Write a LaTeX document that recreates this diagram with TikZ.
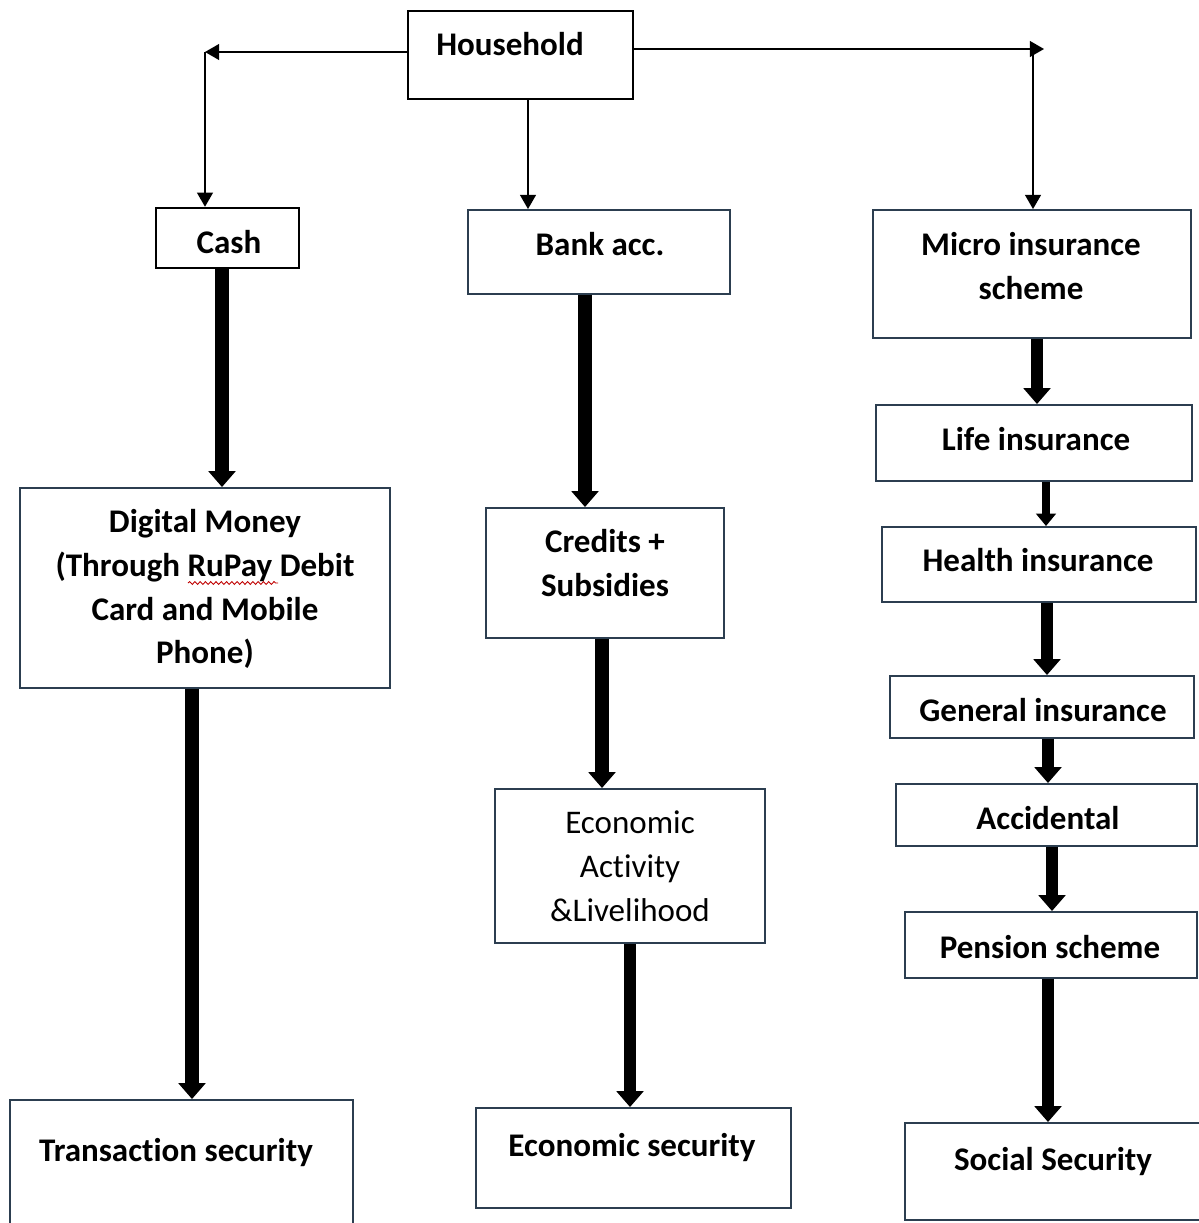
\documentclass[tikz,border=0pt]{standalone}
\usepackage{fontspec}
\setmainfont[Ligatures=NoCommon]{Carlito}
\usetikzlibrary{arrows.meta,decorations.pathmorphing}
\definecolor{boxline}{RGB}{44,62,80}

\begin{document}
\begin{tikzpicture}[x=0.02cm,y=-0.02cm,
  box/.style={draw=boxline,line width=1.1pt,inner sep=0pt},
  blackbox/.style={box,draw=black,line width=1.4pt},
  lbl/.style={font=\fontsize{18.8}{25}\selectfont\bfseries,align=center,inner sep=0pt},
  lblreg/.style={lbl,font=\fontsize{18.8}{25}\selectfont},
  thinarrow/.style={line width=0.8pt,-{Triangle[width=9pt,length=8pt]}},
  fatarrow/.style={line width=#1,-{Triangle[width=15pt,length=9pt]}},
  fatarrow/.default=6.5pt]
  \useasboundingbox (0,0) rectangle (1198,1223);

  % top
  \node[blackbox,minimum width=4.5cm,minimum height=1.76cm] (hh) at (520.5,55) {};
  \node[lbl] (hhtxt) at (510,44) {Household};

  % left column
  \node[blackbox,minimum width=2.86cm,minimum height=1.2cm] (cash) at (227.5,238) {};
  \node[lbl] (cashtxt) at (229,242) {Cash};
  \node[box,minimum width=7.4cm,minimum height=4cm] (dig) at (205,588) {};
  \node[lbl] (digtxt) at (205,589) {Digital Money\\(Through RuPay Debit\\Card and Mobile\\Phone)};
  \node[box,minimum width=6.86cm,minimum height=2.8cm] (trans) at (181.5,1170) {};
  \node[lbl] (transtxt) at (176,1152) {Transaction security};

  % middle column
  \node[box,minimum width=5.24cm,minimum height=1.68cm] (bank) at (599,252) {};
  \node[lbl] (banktxt) at (600,244) {Bank acc.};
  \node[box,minimum width=4.76cm,minimum height=2.6cm] (cred) at (605,573) {};
  \node[lbl] (credtxt) at (605,563) {Credits +\\Subsidies};
  \node[box,minimum width=5.4cm,minimum height=3.08cm] (eca) at (630,866) {};
  \node[lblreg] (ecatxt) at (630,866) {Economic\\Activity\\\&Livelihood};
  \node[box,minimum width=6.3cm,minimum height=2cm] (econ) at (633.5,1158) {};
  \node[lbl] (econtxt) at (632,1147) {Economic security};

  % right column
  \node[box,minimum width=6.36cm,minimum height=2.56cm] (micro) at (1032,274) {};
  \node[lbl] (microtxt) at (1031,266) {Micro insurance\\scheme};
  \node[box,minimum width=6.32cm,minimum height=1.52cm] (life) at (1034,443) {};
  \node[lbl] (lifetxt) at (1036,439) {Life insurance};
  \node[box,minimum width=6.28cm,minimum height=1.5cm] (health) at (1039,564.5) {};
  \node[lbl] (healthtxt) at (1038,560) {Health insurance};
  \node[box,minimum width=6.08cm,minimum height=1.24cm] (gen) at (1042,707) {};
  \node[lbl] (gentxt) at (1043,710) {General insurance};
  \node[box,minimum width=6.02cm,minimum height=1.24cm] (acc) at (1046.5,815) {};
  \node[lbl] (acctxt) at (1048,818) {Accidental};
  \node[box,minimum width=5.84cm,minimum height=1.32cm] (pen) at (1051,945) {};
  \node[lbl] (pentxt) at (1050,947) {Pension scheme};
  \node[box,minimum width=6cm,minimum height=1.94cm] (soc) at (1055,1171.5) {};
  \node[lbl] (soctxt) at (1053,1161) {Social Security};

  % spell-check mark under RuPay
  \draw[red!75!black,line width=0.5pt,decorate,
    decoration={snake,amplitude=0.8pt,segment length=3pt}] (188,583) -- (278,583);

  % thin connectors from household
  \coordinate (lc) at (205,52);
  \coordinate (rtip) at (1044,49);
  \coordinate (rc) at (1033,49);
  \draw[thinarrow] (hh.west |- lc) -- (lc);
  \draw[thinarrow] (lc) -- (lc |- cash.north);
  \draw[thinarrow] (hh.east |- rtip) -- (rtip);
  \draw[thinarrow] (rc) -- (rc |- micro.north);
  \draw[thinarrow] ([xshift=0.15cm]hh.south) -- ([xshift=0.15cm]hh.south |- bank.north);

  % heavy arrows
  \draw[fatarrow=8pt] ([xshift=-0.11cm]cash.south) -- ([xshift=-0.11cm]cash.south |- dig.north);
  \draw[fatarrow=8pt] ([xshift=-0.26cm]dig.south) -- ([xshift=-0.26cm]dig.south |- trans.north);
  \draw[fatarrow=7.5pt] ([xshift=-0.28cm]bank.south) -- ([xshift=-0.28cm]bank.south |- cred.north);
  \draw[fatarrow=7.5pt] ([xshift=-0.06cm]cred.south) -- ([xshift=-0.06cm]cred.south |- eca.north);
  \draw[fatarrow=7pt] (eca.south) -- (eca.south |- econ.north);
  \draw[fatarrow] ([xshift=0.1cm]micro.south) -- ([xshift=0.1cm]micro.south |- life.north);
  \draw[line width=4.5pt,-{Triangle[width=11pt,length=7pt]}] ([xshift=0.24cm]life.south) -- ([xshift=0.24cm]life.south |- health.north);
  \draw[fatarrow] ([xshift=0.16cm]health.south) -- ([xshift=0.16cm]health.south |- gen.north);
  \draw[fatarrow] ([xshift=0.12cm]gen.south) -- ([xshift=0.12cm]gen.south |- acc.north);
  \draw[fatarrow] ([xshift=0.11cm]acc.south) -- ([xshift=0.11cm]acc.south |- pen.north);
  \draw[fatarrow] ([xshift=-0.06cm]pen.south) -- ([xshift=-0.06cm]pen.south |- soc.north);
\end{tikzpicture}
\end{document}
